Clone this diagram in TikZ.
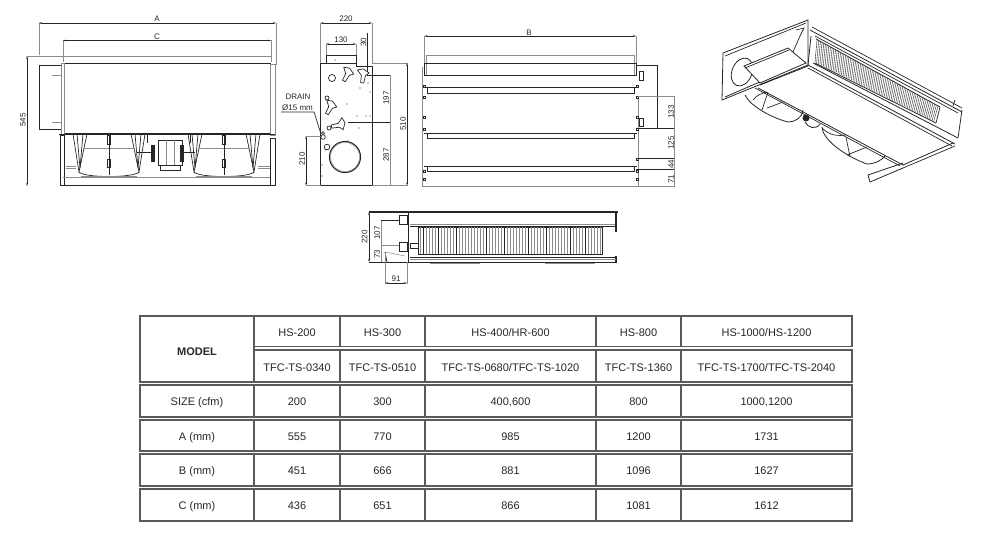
\documentclass[tikz,border=0pt]{standalone}
\usepackage{fontspec}
\setmainfont{Liberation Sans}
\usetikzlibrary{arrows.meta}
\definecolor{inkdark}{HTML}{262626}
\definecolor{inkgray}{HTML}{8C8C8C}
\definecolor{rulegray}{HTML}{5A5A5A}
\tikzset{
    dimline/.style={inkdark,line width=.35pt,<->,>={Stealth[length=3pt,width=1.6pt]}},
    extline/.style={inkgray,line width=.5pt},
    dimtext/.style={font=\fontsize{8}{8}\selectfont,text=inkdark,inner sep=0pt},
    part/.style={inkdark,line width=.7pt},
    heavy/.style={inkdark,line width=1.1pt},
    light/.style={inkgray,line width=.5pt},
    isoline/.style={inkdark,line width=.8pt},
    tablerule/.style={rulegray,line width=1.5pt},
    celltext/.style={font=\fontsize{11}{11}\selectfont,text=inkdark,inner sep=0pt,text height=8pt,text depth=0pt}
}
\begin{document}
\begin{tikzpicture}[x=1pt,y=-1pt]
    \useasboundingbox (0,0) rectangle (987,541);

    % front view
    \draw[extline] (39,23) -- (39,55);
    \draw[extline] (276,23) -- (276,65);
    \draw[extline] (63,40) -- (63,62);
    \draw[extline] (271,40) -- (271,62);
    \draw[dimline] (39,23) -- (276,23);
    \draw[dimline] (63,40.5) -- (271,40.5);
    \node[dimtext] (dimA) at (157,19) {A};
    \node[dimtext] (dimC) at (157,36.5) {C};
    \draw[extline] (27,56) -- (271,56);
    \draw[dimline] (27,56) -- (27,186);
    \node[dimtext,rotate=90] (dimfront) at (23,120) {545};
    \draw[part] (39,65) rectangle (61,129);
    \draw[light] (52,75) -- (62,75) (52,122) -- (62,122);
    \draw[heavy] (62,63.5) -- (271,63.5);
    \draw[part] (64,63.5) rectangle (270,133.5);
    \draw[light] (61,63) rectangle (64,134);
    \draw[light] (270,64) rectangle (275,135);
    \draw[part] (59,134.5) -- (275,134.5);
    \draw[heavy] (60,185.5) -- (272,185.5);
    \draw[part] (60,135) rectangle (64,185);
    \draw[light] (63,177) -- (271,177);
    \draw[part] (270,138) rectangle (275,185);
    \draw[light] (66,166) -- (76,166) (66,168) -- (76,168);
    \draw[light] (258,166) -- (270,166) (258,168) -- (270,168);
    \foreach \fanx in {109,224} {
        \begin{scope}[shift={(\fanx,0)}]
            \draw[part] (-36,134) -- (-30,172) -- (-22,134);
            \draw[part] (-32,134) -- (-29,168) -- (-26,134);
            \draw[part] (36,134) -- (30,172) -- (22,134);
            \draw[part] (32,134) -- (29,168) -- (26,134);
            \draw[part] (-30,172) .. controls (-25,178) and (25,178) .. (30,172);
            \draw[light] (-28,176) -- (28,176);
            \draw[light] (-26,148) -- (26,148);
            \draw[part] (0,134) -- (0,175);
            \draw[part] (-1.5,135) rectangle (1.5,144);
            \draw[part] (-1.5,159) rectangle (1.5,167);
        \end{scope}
    }
    \draw[part] (147,134) -- (147,143) (190,134) -- (190,143);
    \draw[part] (158,140) rectangle (182,165);
    \draw[light] (166,140) -- (166,165) (174,140) -- (174,165);
    \draw[part] (160,165) rectangle (180,170);
    \fill[inkdark] (151,145) rectangle (155,162);
    \fill[inkdark] (180,145) rectangle (184,162);
    \draw[part] (137,152) -- (151,152) (184,152) -- (195,152);

    % side view
    \draw[extline] (320.5,23) -- (320.5,63);
    \draw[extline] (372,23) -- (372,63);
    \draw[dimline] (320.5,23) -- (372,23);
    \node[dimtext] (dimwidth) at (346,19) {220};
    \draw[extline] (326,44) -- (326,55);
    \draw[extline] (356,44) -- (356,55);
    \draw[dimline] (326,44) -- (356,44);
    \node[dimtext] (dimduct) at (341,40) {130};
    \draw[part] (326,63) -- (326,55.5) -- (356,55.5) -- (356,63);
    \draw[part] (320.5,63) -- (356,63) -- (356,66) -- (372,66) -- (372,185) -- (320.5,185) -- cycle;
    \draw[part] (367,33) -- (367,75);
    \node[dimtext,rotate=90] (dimstep) at (363.5,42) {30};
    \draw[extline] (372,63) -- (408,63) (372,185.5) -- (408,185.5);
    \draw[dimline] (407,63) -- (407,185.5);
    \node[dimtext,rotate=90] (dimbody) at (403,124) {510};
    \draw[part] (367,75) -- (391,75);
    \draw[part] (348,122) -- (391,122);
    \draw[extline] (390,75) -- (390,185);
    \node[dimtext,rotate=90] (dimupper) at (386,98) {197};
    \node[dimtext,rotate=90] (dimlower) at (386,155) {287};
    \draw[extline] (306,136) -- (322,136) (306,185.5) -- (321,185.5);
    \draw[dimline] (306,136) -- (306,185.5);
    \node[dimtext,rotate=90] (dimdrain) at (302,159) {210};
    \node[dimtext] (drainname) at (298,97) {DRAIN};
    \node[dimtext] (drainsize) at (297.5,108) {Ø15 mm};
    \draw[part] (281,112) -- (314,112) -- (321,134);
    \draw[heavy] (345,157) circle (15.5);
    \draw[light] (345,157) circle (14.5);
    \foreach \holex/\holey/\holer in {332/78/3.5,327/147/2.8,329/128/2,323/137/2.3,327/98/2,323/133/1.5} {
        \draw[part] (\holex,\holey) circle (\holer);
    }
    \foreach \slotx/\sloty/\slotrot in {348/72/-10,363/73/10,331/105/-10,341/124/-60} {
        \draw[part,shift={(\slotx,\sloty)},rotate=\slotrot,fill=white]
            (-5,-4) -- (1,-4) -- (6,1) -- (2,3) -- (-1,10) -- (-4,9) -- (-2,2) -- cycle;
    }
    \foreach \dotx/\doty in {335/60,368/83,360/88,370/92,347/104,357/116,366/116,370/116,359/128,325/150,322/165,322/176,348/141} {
        \fill[inkdark] (\dotx,\doty) circle (.6);
    }

    % rear view
    \draw[extline] (424.5,36) -- (424.5,64);
    \draw[extline] (636,36) -- (636,64);
    \draw[dimline] (424.5,36) -- (636,36);
    \node[dimtext] (dimB) at (529,32.5) {B};
    \draw[light] (422,67) -- (422,186) -- (638,186) -- (638,96);
    \draw[light] (426,55.5) rectangle (634,75.5);
    \draw[part] (424,63.5) -- (636,63.5) -- (636,75.5) -- (424,75.5) -- cycle;
    \draw[part] (636,65) -- (657.5,65) -- (657.5,128) -- (638,128);
    \foreach \bary/\barh in {87.5/93,133.5/138,166.5/171.5} {
        \draw[inkdark,line width=.9pt] (427,\bary) rectangle (634,\barh);
        \draw[part] (424,\bary) -- (427,\bary) (634,\bary) -- (637,\bary);
    }
    \foreach \tagy in {85,96,116,128,158,170,178} {
        \draw[part] (636,\tagy) rectangle (638,\tagy+2.5);
    }
    \foreach \tagy in {85,96,116,128,170,178} {
        \draw[part] (423.5,\tagy) rectangle (425.5,\tagy+2.5);
    }
    \draw[part] (639,71) rectangle (643,80) (639,118) rectangle (643,126);
    \draw[light] (638,96) -- (675,96) (638,186) -- (675,186);
    \draw[part] (657.5,128) -- (675,128);
    \draw[part] (636,158.5) -- (675,158.5) (636,169.5) -- (675,169.5);
    \draw[extline] (674,96) -- (674,186);
    \node[dimtext,rotate=90] (dimrearA) at (671,112) {133};
    \node[dimtext,rotate=90] (dimrearB) at (671,143) {125};
    \node[dimtext,rotate=90] (dimrearC) at (671,164) {44};
    \node[dimtext,rotate=90] (dimrearD) at (671,179) {71};

    % perspective view
    \foreach \hatch in {0,...,72} {
        \draw[inkdark,line width=.4pt]
            ({817+\hatch*1.68},{40+\hatch*.92}) -- ({815+\hatch*1.65},{62+\hatch*.82});
    }
    \draw[isoline] (723,53) -- (808,20) -- (808,65) -- (722,100) -- cycle;
    \draw[part] (725,56) -- (806,23);
    \draw[isoline] (725,97) -- (806,62);
    \draw[isoline] (742,72) ellipse [x radius=10,y radius=14.5,rotate=-22];
    \draw[isoline,fill=white] (744,66) -- (788,48) -- (806,63) -- (760,83) -- cycle;
    \draw[part] (745,68) -- (789,50);
    \draw[isoline] (760,85) -- (808,66);
    \draw[part] (793,52) -- (800,36);
    \draw[part] (796,30) -- (804,28) -- (800,36);
    \draw[isoline] (810,30) -- (962,112);
    \draw[part] (812,27) -- (962,108);
    \draw[part] (815,36) -- (958,113);
    \draw[isoline] (816,39) -- (940,107);
    \draw[isoline] (815,63) -- (936,123);
    \draw[isoline] (813,63) -- (958,138);
    \draw[isoline] (962,110) -- (958,138);
    \draw[part] (940,107) -- (936,123);
    \draw[isoline] (808,65) -- (955,144);
    \draw[part] (808,68) -- (952,146);
    \draw[isoline] (811,36) -- (808,65);
    \draw[isoline] (758,88) -- (903,165);
    \draw[part] (755,88) -- (900,166);
    \draw[isoline] (903,165) -- (953,143);
    \draw[part] (903,168) -- (955,146);
    \draw[isoline] (868,175) -- (903,163);
    \draw[isoline] (868,175) -- (870,182) -- (903,168);
    \draw[isoline] (745,95) .. controls (750,106) and (772,118) .. (788,122) .. controls (795,122) and (802,118) .. (803,110);
    \draw[part] (753,100) .. controls (757,95) and (762,93) .. (767,92);
    \draw[part] (767,108) -- (783,102);
    \draw[part] (768,92) -- (762,110);
    \draw[isoline] (822,127) .. controls (823,142) and (850,158) .. (867,164) .. controls (875,164) and (882,160) .. (885,156);
    \draw[part] (822,128) .. controls (830,136) and (838,136) .. (846,135);
    \draw[part] (846,137) -- (850,157);
    \draw[part] (847,155) -- (867,147);
    \fill[inkdark] (806,118) circle (3.5);
    \draw[isoline] (805,122) .. controls (808,128) and (816,130) .. (820,124);
    \draw[part] (953,106) -- (955,100);

    % bottom view
    \draw[heavy] (369,212) -- (618,212);
    \draw[part] (369,212) -- (407,212) (369,262) -- (407,262);
    \draw[dimline] (369,212) -- (369,262);
    \node[dimtext,rotate=90] (dimsideA) at (364.5,237) {220};
    \draw[part] (381,220.5) -- (400,220.5);
    \draw[light] (381,245) -- (400,245);
    \draw[extline] (381,220.5) -- (381,262);
    \node[dimtext,rotate=90] (dimsideB) at (377,233) {107};
    \node[dimtext,rotate=90] (dimsideC) at (377,254) {73};
    \draw[heavy] (408.5,211) -- (408.5,263);
    \draw[heavy] (616,211) -- (616,232);
    \draw[heavy] (616,256) -- (616,263);
    \draw[part] (410,226) -- (615,226);
    \draw[light] (410,224) -- (615,224);
    \draw[part] (418,227) rectangle (602,254);
    \foreach \finx in {420,423,...,600} {
        \draw[inkgray,line width=.4pt] (\finx,227) -- (\finx,254);
    }
    \foreach \finx in {423,438,456,486,504,528,546,570,585} {
        \draw[inkdark,line width=.4pt] (\finx,227) -- (\finx,254);
    }
    \draw[part] (410,257) -- (616,257);
    \draw[light] (410,259) -- (616,259);
    \draw[heavy] (409,262.5) -- (617,262.5);
    \draw[light] (430,263.5) -- (480,263.5) (545,263.5) -- (595,263.5);
    \draw[part] (399,215) rectangle (407,224);
    \draw[part] (399,242) rectangle (407,251);
    \draw[part] (410,243) rectangle (418,248);
    \draw[light] (385,252) -- (405,256);
    \draw[part] (385,252) -- (387,262);
    \draw[extline] (385,252) -- (385,284) (407,262) -- (407,284);
    \draw[dimline] (385,283) -- (407,283);
    \node[dimtext] (dimsideD) at (396,279) {91};

    % table
    \foreach \rowtop/\rowbot in {316/346.5,350/382,385/417,420/451,454/486,489/521} {
        \draw[tablerule] (254,\rowtop) rectangle (852,\rowbot);
        \foreach \colx in {340,425,596,681} {
            \draw[tablerule] (\colx,\rowtop) -- (\colx,\rowbot);
        }
    }
    \foreach \rowtop/\rowbot in {316/382,385/417,420/451,454/486,489/521} {
        \draw[tablerule] (140,\rowtop) rectangle (254,\rowbot);
    }
    \node[celltext,font=\fontsize{11}{11}\selectfont\bfseries] (modelhead) at (197,351) {MODEL};
    \node[celltext] (hsa) at (297,332) {HS-200};
    \node[celltext] (hsb) at (382.5,332) {HS-300};
    \node[celltext] (hsc) at (510.5,332) {HS-400/HR-600};
    \node[celltext] (hsd) at (638.5,332) {HS-800};
    \node[celltext] (hse) at (766.5,332) {HS-1000/HS-1200};
    \node[celltext] (tfca) at (297,367) {TFC-TS-0340};
    \node[celltext] (tfcb) at (382.5,367) {TFC-TS-0510};
    \node[celltext] (tfcc) at (510.5,367) {TFC-TS-0680/TFC-TS-1020};
    \node[celltext] (tfcd) at (638.5,367) {TFC-TS-1360};
    \node[celltext] (tfce) at (766.5,367) {TFC-TS-1700/TFC-TS-2040};
    \foreach \rowkey/\rowy/\rowname/\vala/\valb/\valc/\vald/\vale in {
        size/401/SIZE (cfm)/200/300/{400,600}/800/{1000,1200},
        amm/436/A (mm)/555/770/985/1200/1731,
        bmm/470/B (mm)/451/666/881/1096/1627,
        cmm/505/C (mm)/436/651/866/1081/1612} {
        \node[celltext] (\rowkey head) at (197,\rowy) {\rowname};
        \node[celltext] (\rowkey a) at (297,\rowy) {\vala};
        \node[celltext] (\rowkey b) at (382.5,\rowy) {\valb};
        \node[celltext] (\rowkey c) at (510.5,\rowy) {\valc};
        \node[celltext] (\rowkey d) at (638.5,\rowy) {\vald};
        \node[celltext] (\rowkey e) at (766.5,\rowy) {\vale};
    }
\end{tikzpicture}
\end{document}
